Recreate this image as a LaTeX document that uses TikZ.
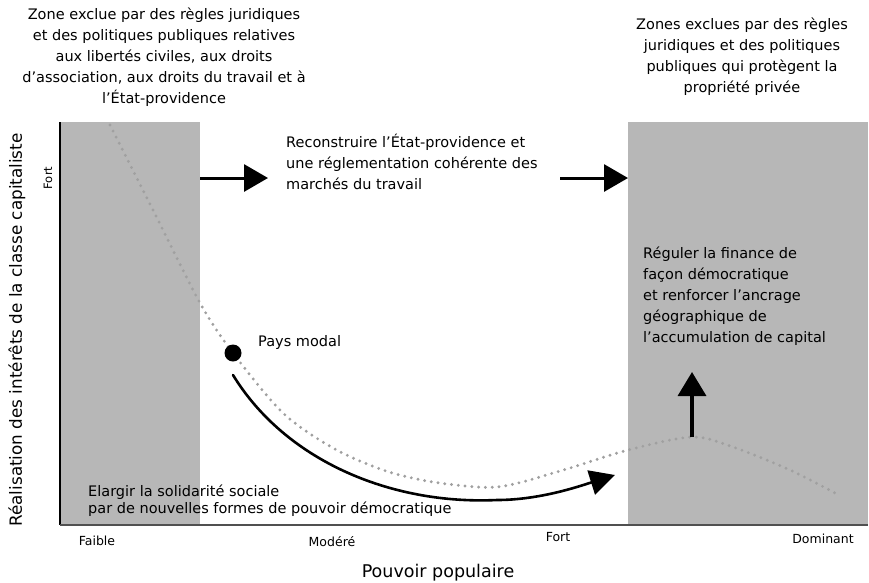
\documentclass[tikz,border=0pt]{standalone}
\usepackage{fontspec}
\setmainfont{DejaVu Sans}
\usepackage{tikz}
\usetikzlibrary{arrows.meta}
\definecolor{zonegray}{HTML}{B7B7B7}
\definecolor{dotgray}{HTML}{A0A0A0}
\definecolor{axisgray}{HTML}{505050}
\tikzset{
  zone/.style={fill=zonegray, draw=none, inner sep=0pt, outer sep=0pt},
  txt/.style={font=\fontsize{14.5}{21}\selectfont, inner sep=0pt},
  tick/.style={font=\fontsize{12.5}{14}\selectfont, inner sep=0pt},
  bigarrow/.style={line width=3pt, -{Triangle[length=24pt,width=27pt]}},
  trend/.style={draw=dotgray, line width=3.2pt, line cap=round, dash pattern=on 0pt off 6.8pt},
  path/.style={line width=2.6pt, line cap=round, -{Triangle[length=25pt,width=25pt]}},
}

\begin{document}
\begin{tikzpicture}[x=1pt,y=-1pt]
  \useasboundingbox[fill=white] (0,0) rectangle (869,582);

  % zones exclues
  \fill[zone] (60,122) rectangle (200,525);
  \fill[zone] (628,122) rectangle (868,525);

  % axes
  \draw[line width=1.6pt] (60,122) -- (60,525);
  \draw[axisgray, line width=2pt] (60,525) -- (868,525);

  % courbe en pointillés
  \draw[trend] plot[smooth] coordinates {(110,125) (155,214) (200,303) (233,353)
    (283,413) (333,448) (383,470) (433,482) (497,487) (560,471) (628,450)
    (692,437) (733,447) (790,470) (835,493)};

  % titres des zones
  \node[txt, align=center] (lowtxt) at (164,57) {Zone exclue par des règles juridiques\\
    et des politiques publiques relatives\\aux libertés civiles, aux droits\\
    d’association, aux droits du travail et à\\l’État-providence};
  \node[txt, align=center] (hightxt) at (742,57) {Zones exclues par des règles\\
    juridiques et des politiques\\publiques qui protègent la\\propriété privée};

  % axes : libellés
  \node[font=\fontsize{16.8}{18}\selectfont, rotate=90] (ylab) at (17,330)
    {Réalisation des intérêts de la classe capitaliste};
  \node[tick, font=\fontsize{11.5}{13}\selectfont, rotate=90] (yfort) at (48,178) {Fort};
  \node[font=\fontsize{17.5}{20}\selectfont] (xlab) at (438,573) {Pouvoir populaire};
  \node[tick] (faible) at (97,541) {Faible};
  \node[tick] (modere) at (332,542) {Modéré};
  \node[tick] (xfort) at (558,537) {Fort};
  \node[tick] (dominant) at (823,539) {Dominant};

  % flèches horizontales
  \coordinate (a1s) at (200,178);
  \coordinate (a1e) at (268,178);
  \coordinate (a2s) at (560,178);
  \coordinate (a2e) at (628,178);
  \draw[bigarrow] (a1s) -- (a1e);
  \draw[bigarrow] (a2s) -- (a2e);
  \node[txt, align=left, anchor=north west] (rebuild) at (286,134)
    {Reconstruire l’État-providence et\\une réglementation cohérente des\\marchés du travail};

  % pays modal
  \node[circle, fill=black, minimum size=17pt, inner sep=0pt] (modal) at (233,353) {};
  \node[txt, anchor=west] (modaltxt) at (258,342) {Pays modal};

  % trajectoire
  \coordinate (ps) at (233,375);
  \coordinate (pm) at (497,500);
  \coordinate (pe) at (615,475);
  \draw[path] (ps) .. controls (285,460) and (390,505) .. (pm)
    .. controls (540,500) and (580,486) .. (pe);
  \node[txt, font=\fontsize{14.5}{17}\selectfont, align=left, anchor=north west] (widen) at (88,485)
    {Elargir la solidarité sociale\\par de nouvelles formes de pouvoir démocratique};

  % flèche verticale
  \coordinate (peak) at (692,437);
  \coordinate (up) at (692,372);
  \draw[bigarrow, line width=3.5pt, -{Triangle[length=24pt,width=28pt]}] (peak) -- (up);
  \node[txt, align=left, anchor=north west] (finance) at (643,247)
    {Réguler la finance de\\façon démocratique\\et renforcer l’ancrage\\géographique de\\l’accumulation de capital};
\end{tikzpicture}
\end{document}
